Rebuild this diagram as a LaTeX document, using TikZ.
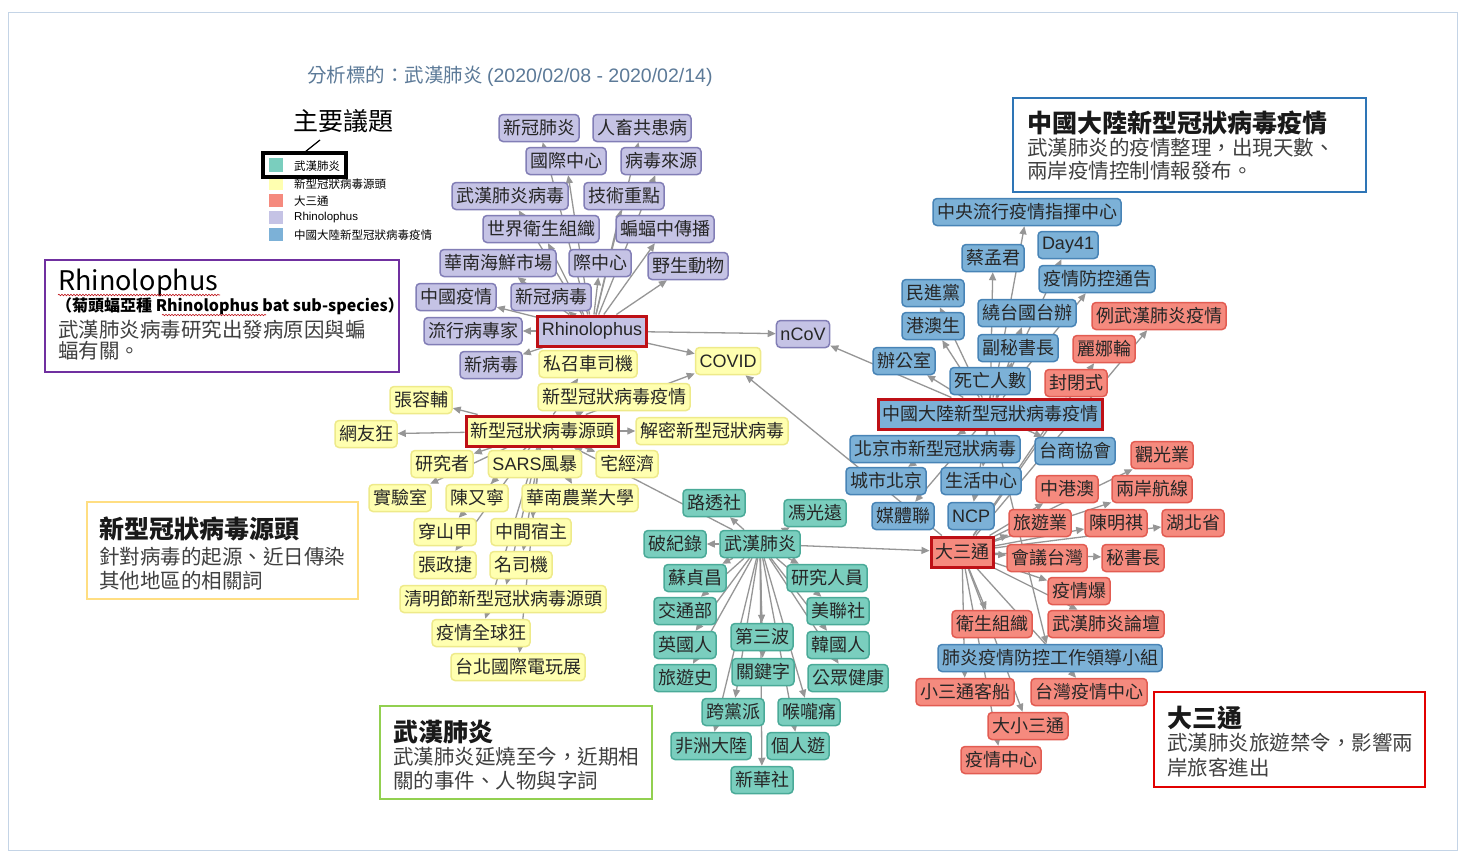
\documentclass[tikz,border=0pt]{standalone}
\usepackage{fontspec}
\setmainfont{Noto Sans CJK TC}
\newfontfamily\arialike{Liberation Sans}
\usepackage{xcolor}
\usetikzlibrary{arrows.meta}
\usetikzlibrary{backgrounds}
\usetikzlibrary{decorations.pathmorphing}
\definecolor{puF}{RGB}{197,195,229}
\definecolor{puD}{RGB}{130,126,182}
\definecolor{yeF}{RGB}{255,255,176}
\definecolor{yeD}{RGB}{238,234,138}
\definecolor{teF}{RGB}{122,206,190}
\definecolor{teD}{RGB}{74,170,152}
\definecolor{blF}{RGB}{124,177,215}
\definecolor{blD}{RGB}{72,132,182}
\definecolor{reF}{RGB}{245,138,126}
\definecolor{reD}{RGB}{226,92,82}
\definecolor{hotred}{RGB}{190,16,22}
\definecolor{edgegray}{RGB}{150,150,150}
\definecolor{titleblue}{RGB}{92,122,152}
\definecolor{framec}{RGB}{196,212,230}
\definecolor{noteP}{RGB}{112,48,160}
\definecolor{noteY}{RGB}{255,222,130}
\definecolor{noteB}{RGB}{46,117,182}
\definecolor{noteR}{RGB}{226,0,0}
\definecolor{noteG}{RGB}{146,208,80}

\begin{document}
\begin{tikzpicture}[x=1pt, y=-1pt,
	kw/.style={draw, rounded corners=4pt, line width=1.5pt, inner xsep=4pt, inner ysep=0pt, minimum height=27pt, text=black!85, font=\fontsize{18}{20}\selectfont},
	pu/.style={kw, fill=puF, draw=puD},
	ye/.style={kw, fill=yeF, draw=yeD},
	te/.style={kw, fill=teF, draw=teD},
	bl/.style={kw, fill=blF, draw=blD},
	re/.style={kw, fill=reF, draw=reD},
	hot/.style={draw=hotred, line width=3pt, rounded corners=0pt, minimum height=30pt},
	link/.style={draw=edgegray, line width=1.3pt, -{Triangle[length=8pt, width=7pt]}},
	notebox/.style={line width=2.8pt, fill=white},
	ntitle/.style={anchor=base west, inner sep=0pt, font=\fontsize{25}{28}\selectfont\bfseries, text=black!90},
	nbody/.style={anchor=base west, inner sep=0pt, font=\fontsize{20.5}{24}\selectfont, text=black!75},
	legtxt/.style={anchor=west, inner sep=0pt, font=\fontsize{11.5}{13}\selectfont},
]
	\useasboundingbox (0,0) rectangle (1463,854);

	\node[anchor=base west, inner sep=0pt, text=titleblue, font=\fontsize{19.5}{22}\selectfont] (title) at (307,82) {分析標的：武漢肺炎 {\arialike(2020/02/08 - 2020/02/14)}};

	\node[anchor=base west, inner sep=0pt, font=\fontsize{25}{28}\selectfont] (legtitle) at (293,130) {主要議題};
	\draw[black, line width=1.2pt] (305,152) -- (320,140);
	\fill[teF] (269,158) rectangle (283,172);
	\fill[yeF] (269,177) rectangle (283,190);
	\fill[reF] (269,194) rectangle (283,207);
	\fill[puF] (269,211) rectangle (283,224);
	\fill[blF] (269,228) rectangle (283,241);
	\node[legtxt] (leg1) at (294,166) {武漢肺炎};
	\node[legtxt] (leg2) at (294,184) {新型冠狀病毒源頭};
	\node[legtxt] (leg3) at (294,201) {大三通};
	\node[legtxt] (leg4) at (294,218) {\arialike Rhinolophus};
	\node[legtxt] (leg5) at (294,235) {中國大陸新型冠狀病毒疫情};
	\draw[black, line width=3.5pt] (263,153) rectangle (346,177);

	\node[pu] (p1) at (539,128) {新冠肺炎};
	\node[pu] (p2) at (642,128) {人畜共患病};
	\node[pu] (p3) at (566,161) {國際中心};
	\node[pu] (p4) at (661,161) {病毒來源};
	\node[pu] (p5) at (510,196) {武漢肺炎病毒};
	\node[pu] (p6) at (624,196) {技術重點};
	\node[pu] (p7) at (541,229) {世界衛生組織};
	\node[pu] (p8) at (665,229) {蝙蝠中傳播};
	\node[pu] (p9) at (498,263) {華南海鮮市場};
	\node[pu] (p10) at (600,263) {際中心};
	\node[pu] (p11) at (688,266) {野生動物};
	\node[pu] (p12) at (456,297) {中國疫情};
	\node[pu] (p13) at (551,297) {新冠病毒};
	\node[pu] (p14) at (473,331) {流行病專家};
	\node[pu] (p15) at (491,365) {新病毒};
	\node[pu, hot] (rhino) at (592,331) {\arialike Rhinolophus};
	\node[pu] (ncov) at (803,334) {\arialike nCoV};

	\node[ye, hot] (ysrc) at (542,431) {新型冠狀病毒源頭};
	\node[ye] (covid) at (728,361) {\arialike COVID};
	\node[ye] (y1) at (588,364) {私召車司機};
	\node[ye] (y2) at (614,397) {新型冠狀病毒疫情};
	\node[ye] (y3) at (421,400) {張容輔};
	\node[ye] (y4) at (366,434) {網友狂};
	\node[ye] (y5) at (712,431) {解密新型冠狀病毒};
	\node[ye] (y6) at (442,464) {研究者};
	\node[ye] (y7) at (535,464) {{\arialike SARS}風暴};
	\node[ye] (y8) at (627,464) {宅經濟};
	\node[ye] (y9) at (400,498) {實驗室};
	\node[ye] (y10) at (477,498) {陳又寧};
	\node[ye] (y11) at (580,498) {華南農業大學};
	\node[ye] (y12) at (445,532) {穿山甲};
	\node[ye] (y13) at (531,532) {中間宿主};
	\node[ye] (y14) at (445,565) {張政捷};
	\node[ye] (y15) at (521,565) {名司機};
	\node[ye] (y16) at (503,599) {清明節新型冠狀病毒源頭};
	\node[ye] (y17) at (481,633) {疫情全球狂};
	\node[ye] (y18) at (518,667) {台北國際電玩展};

	\node[te] (wh) at (760,544) {武漢肺炎};
	\node[te] (t1) at (714,503) {路透社};
	\node[te] (t2) at (815,513) {馮光遠};
	\node[te] (t3) at (675,544) {破紀錄};
	\node[te] (t4) at (695,578) {蘇貞昌};
	\node[te] (t5) at (827,578) {研究人員};
	\node[te] (t6) at (685,611) {交通部};
	\node[te] (t7) at (838,611) {美聯社};
	\node[te] (t8) at (685,645) {英國人};
	\node[te] (t9) at (762,637) {第三波};
	\node[te] (t10) at (838,645) {韓國人};
	\node[te] (t11) at (685,678) {旅遊史};
	\node[te] (t12) at (763,672) {關鍵字};
	\node[te] (t13) at (848,678) {公眾健康};
	\node[te] (t14) at (733,712) {跨黨派};
	\node[te] (t15) at (809,712) {喉嚨痛};
	\node[te] (t16) at (711,746) {非洲大陸};
	\node[te] (t17) at (798,746) {個人遊};
	\node[te] (t18) at (762,780) {新華社};

	\node[bl, hot] (bhub) at (990,414) {中國大陸新型冠狀病毒疫情};
	\node[bl] (b1) at (1027,212) {中央流行疫情指揮中心};
	\node[bl] (b2) at (993,258) {蔡孟君};
	\node[bl] (b3) at (1068,245) {\arialike Day41};
	\node[bl] (b4) at (1097,279) {疫情防控通告};
	\node[bl] (b5) at (933,293) {民進黨};
	\node[bl] (b6) at (1027,313) {繞台國台辦};
	\node[bl] (b7) at (933,326) {港澳生};
	\node[bl] (b8) at (1018,348) {副秘書長};
	\node[bl] (b9) at (904,361) {辦公室};
	\node[bl] (b10) at (990,381) {死亡人數};
	\node[bl] (b11) at (935,449) {北京市新型冠狀病毒};
	\node[bl] (b12) at (1075,451) {台商協會};
	\node[bl] (b13) at (886,481) {城市北京};
	\node[bl] (b14) at (981,481) {生活中心};
	\node[bl] (b15) at (903,516) {媒體聯};
	\node[bl] (b16) at (971,516) {\arialike NCP};
	\node[bl] (b17) at (1050,658) {肺炎疫情防控工作領導小組};

	\node[re, hot] (dst) at (962,552) {大三通};
	\node[re] (r1) at (1159,316) {例武漢肺炎疫情};
	\node[re] (r2) at (1104,349) {麗娜輪};
	\node[re] (r3) at (1076,383) {封閉式};
	\node[re] (r4) at (1162,455) {觀光業};
	\node[re] (r5) at (1067,489) {中港澳};
	\node[re] (r6) at (1152,489) {兩岸航線};
	\node[re] (r7) at (1040,523) {旅遊業};
	\node[re] (r8) at (1116,523) {陳明祺};
	\node[re] (r9) at (1193,523) {湖北省};
	\node[re] (r10) at (1047,558) {會議台灣};
	\node[re] (r11) at (1133,558) {秘書長};
	\node[re] (r12) at (1079,591) {疫情爆};
	\node[re] (r13) at (992,624) {衛生組織};
	\node[re] (r14) at (1106,624) {武漢肺炎論壇};
	\node[re] (r15) at (965,692) {小三通客船};
	\node[re] (r16) at (1089,692) {台灣疫情中心};
	\node[re] (r17) at (1028,726) {大小三通};
	\node[re] (r18) at (1001,760) {疫情中心};

	\draw[notebox, draw=noteP] (45,260) rectangle (399,372);
	\node[anchor=base west, inner sep=0pt, font=\fontsize{27}{30}\selectfont] (rhnote) at (58,290) {Rhinolophus};
	\node[anchor=base west, inner sep=0pt, font=\fontsize{16}{18}\selectfont\bfseries] (rhsub) at (56,311) {（菊頭蝠亞種 Rhinolophus bat sub-species）};
	\node[nbody] (rhl1) at (58,337) {武漢肺炎病毒研究出發病原因與蝙};
	\node[nbody] (rhl2) at (58,358) {蝠有關。};
	\draw[hotred, line width=0.6pt, decorate, decoration={snake, amplitude=0.8pt, segment length=3pt}] (58,295) -- (220,295);
	\draw[hotred, line width=0.6pt, decorate, decoration={snake, amplitude=0.7pt, segment length=3pt}] (162,315) -- (266,315);

	\draw[notebox, draw=noteY] (87,502) rectangle (358,599);
	\node[ntitle] (ynote) at (99,538) {新型冠狀病毒源頭};
	\node[nbody] (yl1) at (99,564) {針對病毒的起源、近日傳染};
	\node[nbody] (yl2) at (99,588) {其他地區的相關詞};

	\draw[notebox, draw=noteB] (1013,98) rectangle (1366,192);
	\node[ntitle] (bnote) at (1027,132) {中國大陸新型冠狀病毒疫情};
	\node[nbody] (bl1) at (1027,155) {武漢肺炎的疫情整理，出現天數、};
	\node[nbody] (bl2) at (1027,178) {兩岸疫情控制情報發布。};

	\draw[notebox, draw=noteR] (1154,692) rectangle (1425,787);
	\node[ntitle] (rnote) at (1167,727) {大三通};
	\node[nbody] (rl1) at (1167,750) {武漢肺炎旅遊禁令，影響兩};
	\node[nbody] (rl2) at (1167,775) {岸旅客進出};

	\draw[notebox, draw=noteG] (380,706) rectangle (652,799);
	\node[ntitle] (gnote) at (393,741) {武漢肺炎};
	\node[nbody] (gl1) at (393,764) {武漢肺炎延燒至今，近期相};
	\node[nbody] (gl2) at (393,788) {關的事件、人物與字詞};

	\begin{scope}[on background layer]
		\fill[white] (0,0) rectangle (1463,854);
		\draw[framec, line width=1pt] (8,12) rectangle (1457,850);
		\foreach \i in {1,...,15} \draw[link] (rhino) -- (p\i);
		\draw[link] (rhino) -- (ncov);
		\draw[link] (rhino) -- (covid);
		\foreach \i in {1,...,18} \draw[link] (ysrc) -- (y\i);
		\draw[link] (ysrc) -- (covid);
		\foreach \i in {1,...,18} \draw[link] (wh) -- (t\i);
		\draw[link] (wh) -- (dst);
		\draw[link] (wh) -- (ysrc);
		\foreach \i in {1,...,17} \draw[link] (bhub) -- (b\i);
		\draw[link] (bhub) -- (ncov);
		\foreach \i in {1,...,18} \draw[link] (dst) -- (r\i);
		\draw[link] (dst) -- (covid);
	\end{scope}
\end{tikzpicture}
\end{document}
